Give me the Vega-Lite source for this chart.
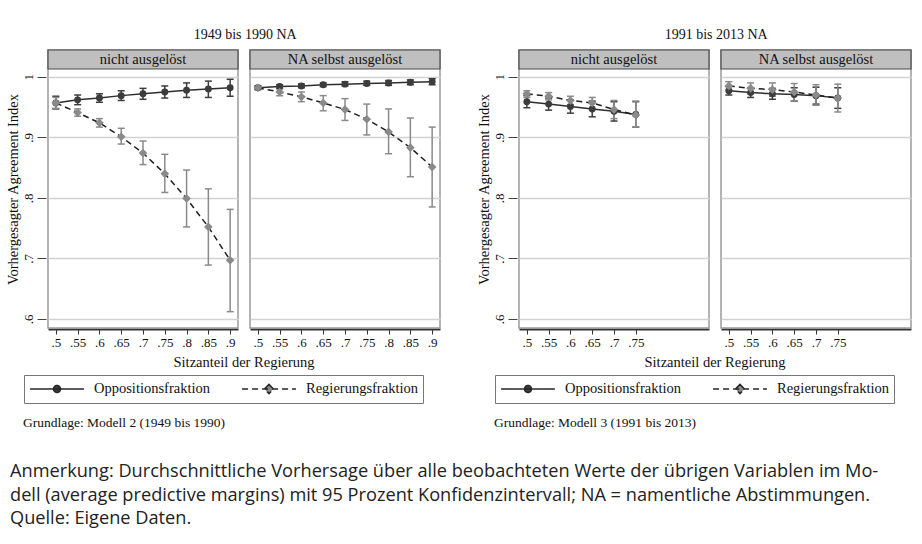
{
  "$schema": "https://vega.github.io/schema/vega-lite/v6.json",
  "background": "white",
  "padding": {"left": 5, "top": 27, "right": 5, "bottom": 5},
  "datasets": {
    "pts": [
      {"period": "1949 bis 1990", "panel": "nicht ausgelöst", "series": "Oppositionsfraktion", "x": 0.5, "y": 0.957, "lo": 0.947, "hi": 0.968},
      {"period": "1949 bis 1990", "panel": "nicht ausgelöst", "series": "Oppositionsfraktion", "x": 0.55, "y": 0.962, "lo": 0.954, "hi": 0.970},
      {"period": "1949 bis 1990", "panel": "nicht ausgelöst", "series": "Oppositionsfraktion", "x": 0.6, "y": 0.965, "lo": 0.958, "hi": 0.972},
      {"period": "1949 bis 1990", "panel": "nicht ausgelöst", "series": "Oppositionsfraktion", "x": 0.65, "y": 0.969, "lo": 0.961, "hi": 0.977},
      {"period": "1949 bis 1990", "panel": "nicht ausgelöst", "series": "Oppositionsfraktion", "x": 0.7, "y": 0.972, "lo": 0.963, "hi": 0.981},
      {"period": "1949 bis 1990", "panel": "nicht ausgelöst", "series": "Oppositionsfraktion", "x": 0.75, "y": 0.975, "lo": 0.965, "hi": 0.985},
      {"period": "1949 bis 1990", "panel": "nicht ausgelöst", "series": "Oppositionsfraktion", "x": 0.8, "y": 0.978, "lo": 0.966, "hi": 0.990},
      {"period": "1949 bis 1990", "panel": "nicht ausgelöst", "series": "Oppositionsfraktion", "x": 0.85, "y": 0.980, "lo": 0.966, "hi": 0.993},
      {"period": "1949 bis 1990", "panel": "nicht ausgelöst", "series": "Oppositionsfraktion", "x": 0.9, "y": 0.982, "lo": 0.968, "hi": 0.996},
      {"period": "1949 bis 1990", "panel": "nicht ausgelöst", "series": "Regierungsfraktion", "x": 0.5, "y": 0.957, "lo": 0.948, "hi": 0.966},
      {"period": "1949 bis 1990", "panel": "nicht ausgelöst", "series": "Regierungsfraktion", "x": 0.55, "y": 0.941, "lo": 0.935, "hi": 0.947},
      {"period": "1949 bis 1990", "panel": "nicht ausgelöst", "series": "Regierungsfraktion", "x": 0.6, "y": 0.924, "lo": 0.917, "hi": 0.931},
      {"period": "1949 bis 1990", "panel": "nicht ausgelöst", "series": "Regierungsfraktion", "x": 0.65, "y": 0.901, "lo": 0.889, "hi": 0.915},
      {"period": "1949 bis 1990", "panel": "nicht ausgelöst", "series": "Regierungsfraktion", "x": 0.7, "y": 0.874, "lo": 0.855, "hi": 0.894},
      {"period": "1949 bis 1990", "panel": "nicht ausgelöst", "series": "Regierungsfraktion", "x": 0.75, "y": 0.840, "lo": 0.809, "hi": 0.872},
      {"period": "1949 bis 1990", "panel": "nicht ausgelöst", "series": "Regierungsfraktion", "x": 0.8, "y": 0.799, "lo": 0.752, "hi": 0.846},
      {"period": "1949 bis 1990", "panel": "nicht ausgelöst", "series": "Regierungsfraktion", "x": 0.85, "y": 0.752, "lo": 0.689, "hi": 0.815},
      {"period": "1949 bis 1990", "panel": "nicht ausgelöst", "series": "Regierungsfraktion", "x": 0.9, "y": 0.697, "lo": 0.612, "hi": 0.781},
      {"period": "1949 bis 1990", "panel": "NA selbst ausgelöst", "series": "Oppositionsfraktion", "x": 0.5, "y": 0.982, "lo": 0.979, "hi": 0.985},
      {"period": "1949 bis 1990", "panel": "NA selbst ausgelöst", "series": "Oppositionsfraktion", "x": 0.55, "y": 0.984, "lo": 0.981, "hi": 0.987},
      {"period": "1949 bis 1990", "panel": "NA selbst ausgelöst", "series": "Oppositionsfraktion", "x": 0.6, "y": 0.985, "lo": 0.982, "hi": 0.988},
      {"period": "1949 bis 1990", "panel": "NA selbst ausgelöst", "series": "Oppositionsfraktion", "x": 0.65, "y": 0.987, "lo": 0.984, "hi": 0.990},
      {"period": "1949 bis 1990", "panel": "NA selbst ausgelöst", "series": "Oppositionsfraktion", "x": 0.7, "y": 0.988, "lo": 0.985, "hi": 0.992},
      {"period": "1949 bis 1990", "panel": "NA selbst ausgelöst", "series": "Oppositionsfraktion", "x": 0.75, "y": 0.989, "lo": 0.986, "hi": 0.993},
      {"period": "1949 bis 1990", "panel": "NA selbst ausgelöst", "series": "Oppositionsfraktion", "x": 0.8, "y": 0.990, "lo": 0.986, "hi": 0.994},
      {"period": "1949 bis 1990", "panel": "NA selbst ausgelöst", "series": "Oppositionsfraktion", "x": 0.85, "y": 0.991, "lo": 0.987, "hi": 0.995},
      {"period": "1949 bis 1990", "panel": "NA selbst ausgelöst", "series": "Oppositionsfraktion", "x": 0.9, "y": 0.992, "lo": 0.987, "hi": 0.997},
      {"period": "1949 bis 1990", "panel": "NA selbst ausgelöst", "series": "Regierungsfraktion", "x": 0.5, "y": 0.982, "lo": 0.979, "hi": 0.985},
      {"period": "1949 bis 1990", "panel": "NA selbst ausgelöst", "series": "Regierungsfraktion", "x": 0.55, "y": 0.975, "lo": 0.969, "hi": 0.980},
      {"period": "1949 bis 1990", "panel": "NA selbst ausgelöst", "series": "Regierungsfraktion", "x": 0.6, "y": 0.967, "lo": 0.959, "hi": 0.975},
      {"period": "1949 bis 1990", "panel": "NA selbst ausgelöst", "series": "Regierungsfraktion", "x": 0.65, "y": 0.957, "lo": 0.944, "hi": 0.969},
      {"period": "1949 bis 1990", "panel": "NA selbst ausgelöst", "series": "Regierungsfraktion", "x": 0.7, "y": 0.946, "lo": 0.928, "hi": 0.964},
      {"period": "1949 bis 1990", "panel": "NA selbst ausgelöst", "series": "Regierungsfraktion", "x": 0.75, "y": 0.930, "lo": 0.904, "hi": 0.955},
      {"period": "1949 bis 1990", "panel": "NA selbst ausgelöst", "series": "Regierungsfraktion", "x": 0.8, "y": 0.909, "lo": 0.873, "hi": 0.947},
      {"period": "1949 bis 1990", "panel": "NA selbst ausgelöst", "series": "Regierungsfraktion", "x": 0.85, "y": 0.883, "lo": 0.835, "hi": 0.932},
      {"period": "1949 bis 1990", "panel": "NA selbst ausgelöst", "series": "Regierungsfraktion", "x": 0.9, "y": 0.851, "lo": 0.785, "hi": 0.917},
      {"period": "1991 bis 2013", "panel": "nicht ausgelöst", "series": "Oppositionsfraktion", "x": 0.5, "y": 0.959, "lo": 0.949, "hi": 0.969},
      {"period": "1991 bis 2013", "panel": "nicht ausgelöst", "series": "Oppositionsfraktion", "x": 0.55, "y": 0.955, "lo": 0.945, "hi": 0.965},
      {"period": "1991 bis 2013", "panel": "nicht ausgelöst", "series": "Oppositionsfraktion", "x": 0.6, "y": 0.951, "lo": 0.940, "hi": 0.962},
      {"period": "1991 bis 2013", "panel": "nicht ausgelöst", "series": "Oppositionsfraktion", "x": 0.65, "y": 0.947, "lo": 0.934, "hi": 0.960},
      {"period": "1991 bis 2013", "panel": "nicht ausgelöst", "series": "Oppositionsfraktion", "x": 0.7, "y": 0.943, "lo": 0.927, "hi": 0.959},
      {"period": "1991 bis 2013", "panel": "nicht ausgelöst", "series": "Oppositionsfraktion", "x": 0.75, "y": 0.938, "lo": 0.917, "hi": 0.959},
      {"period": "1991 bis 2013", "panel": "nicht ausgelöst", "series": "Regierungsfraktion", "x": 0.5, "y": 0.972, "lo": 0.966, "hi": 0.977},
      {"period": "1991 bis 2013", "panel": "nicht ausgelöst", "series": "Regierungsfraktion", "x": 0.55, "y": 0.968, "lo": 0.962, "hi": 0.974},
      {"period": "1991 bis 2013", "panel": "nicht ausgelöst", "series": "Regierungsfraktion", "x": 0.6, "y": 0.961, "lo": 0.954, "hi": 0.968},
      {"period": "1991 bis 2013", "panel": "nicht ausgelöst", "series": "Regierungsfraktion", "x": 0.65, "y": 0.957, "lo": 0.947, "hi": 0.966},
      {"period": "1991 bis 2013", "panel": "nicht ausgelöst", "series": "Regierungsfraktion", "x": 0.7, "y": 0.946, "lo": 0.931, "hi": 0.961},
      {"period": "1991 bis 2013", "panel": "nicht ausgelöst", "series": "Regierungsfraktion", "x": 0.75, "y": 0.937, "lo": 0.917, "hi": 0.960},
      {"period": "1991 bis 2013", "panel": "NA selbst ausgelöst", "series": "Oppositionsfraktion", "x": 0.5, "y": 0.977, "lo": 0.970, "hi": 0.984},
      {"period": "1991 bis 2013", "panel": "NA selbst ausgelöst", "series": "Oppositionsfraktion", "x": 0.55, "y": 0.974, "lo": 0.966, "hi": 0.982},
      {"period": "1991 bis 2013", "panel": "NA selbst ausgelöst", "series": "Oppositionsfraktion", "x": 0.6, "y": 0.972, "lo": 0.963, "hi": 0.981},
      {"period": "1991 bis 2013", "panel": "NA selbst ausgelöst", "series": "Oppositionsfraktion", "x": 0.65, "y": 0.971, "lo": 0.960, "hi": 0.982},
      {"period": "1991 bis 2013", "panel": "NA selbst ausgelöst", "series": "Oppositionsfraktion", "x": 0.7, "y": 0.969, "lo": 0.955, "hi": 0.983},
      {"period": "1991 bis 2013", "panel": "NA selbst ausgelöst", "series": "Oppositionsfraktion", "x": 0.75, "y": 0.965, "lo": 0.948, "hi": 0.982},
      {"period": "1991 bis 2013", "panel": "NA selbst ausgelöst", "series": "Regierungsfraktion", "x": 0.5, "y": 0.985, "lo": 0.978, "hi": 0.992},
      {"period": "1991 bis 2013", "panel": "NA selbst ausgelöst", "series": "Regierungsfraktion", "x": 0.55, "y": 0.981, "lo": 0.972, "hi": 0.990},
      {"period": "1991 bis 2013", "panel": "NA selbst ausgelöst", "series": "Regierungsfraktion", "x": 0.6, "y": 0.979, "lo": 0.968, "hi": 0.990},
      {"period": "1991 bis 2013", "panel": "NA selbst ausgelöst", "series": "Regierungsfraktion", "x": 0.65, "y": 0.975, "lo": 0.960, "hi": 0.989},
      {"period": "1991 bis 2013", "panel": "NA selbst ausgelöst", "series": "Regierungsfraktion", "x": 0.7, "y": 0.970, "lo": 0.953, "hi": 0.987},
      {"period": "1991 bis 2013", "panel": "NA selbst ausgelöst", "series": "Regierungsfraktion", "x": 0.75, "y": 0.965, "lo": 0.942, "hi": 0.988}
    ]
  },
  "title": {
    "text": ["Anmerkung: Durchschnittliche Vorhersage über alle beobachteten Werte der übrigen Variablen im Mo-", "dell (average predictive margins) mit 95 Prozent Konfidenzintervall; NA = namentliche Abstimmungen.", "Quelle: Eigene Daten."],
    "orient": "bottom", "anchor": "start", "frame": "bounds",
    "font": "Open Sans",
    "fontSize": 18.2, "fontWeight": "normal", "lineHeight": 23.5, "offset": 34, "dx": 5, "color": "#222"
  },
  "spacing": 34,
  "resolve": {"scale": {"color": "independent"}},
  "hconcat": [
    {
      "title": {"text": "Grundlage: Modell 2 (1949 bis 1990)", "orient": "bottom", "anchor": "start", "fontSize": 13.5, "offset": 12, "dx": 18},
      "vconcat": [
        {
          "data": {"name": "pts"},
          "transform": [{"filter": "datum.period === '1949 bis 1990'"}],
          "title": {"text": "1949 bis 1990 NA", "fontSize": 14, "offset": 7, "anchor": "middle", "dx": 22},
          "facet": {"column": {"field": "panel", "type": "nominal", "sort": ["nicht ausgelöst", "NA selbst ausgelöst"], "header": {"labels": false, "title": "Sitzanteil der Regierung", "titleOrient": "bottom", "titleFont": "Liberation Serif", "titleFontSize": 14.5, "titleFontWeight": "normal", "titleColor": "#111", "titlePadding": -3}}},
          "spacing": 8,
          "spec": {
            "width": 190, "height": 278,
            "layer": [
              {"transform": [{"aggregate": [{"op": "count", "as": "n"}], "groupby": ["panel"]}], "mark": {"type": "rect", "fill": "#bfbfbf", "stroke": "#4a4a4a", "strokeWidth": 1.2}, "encoding": {"y": {"datum": 1.013, "type": "quantitative", "scale": {"domain": [0.585, 1.0444], "nice": false, "zero": false}, "axis": {"values": [0.6, 0.7, 0.8, 0.9, 1], "labelExpr": "datum.value < 1 ? substring(format(datum.value, '.1f'), 1) : '1'", "labelAngle": -90, "labelAlign": "center", "labelBaseline": "bottom", "labelPadding": 2, "tickSize": 9, "domain": false, "grid": true, "title": "Vorhergesagter Agreement Index", "titlePadding": 2}}, "y2": {"datum": 1.0444}}},
              {"transform": [{"aggregate": [{"op": "count", "as": "n"}], "groupby": ["panel"]}], "mark": {"type": "text", "fontSize": 14.5, "color": "#111", "baseline": "middle"}, "encoding": {"y": {"datum": 1.0287, "type": "quantitative"}, "text": {"field": "panel"}}},
              {
                "encoding": {"x": {"field": "x", "type": "quantitative", "scale": {"domain": [0.482, 0.918], "nice": false, "zero": false}, "axis": {"values": [0.5, 0.55, 0.6, 0.65, 0.7, 0.75, 0.8, 0.85, 0.9], "labelExpr": "substring(format(datum.value, '.2~f'), 1)", "grid": false, "domainColor": "#333", "domainWidth": 2, "tickColor": "#333", "tickSize": 5, "labelPadding": 2, "labelFlush": false, "labelOverlap": false, "title": null}}},
                "layer": [
                  {"transform": [{"filter": "datum.series === 'Oppositionsfraktion'"}], "mark": {"type": "rule", "strokeWidth": 1.5, "color": "#3c3c3c"}, "encoding": {"y": {"field": "lo", "type": "quantitative"}, "y2": {"field": "hi"}}},
                  {"transform": [{"filter": "datum.series === 'Oppositionsfraktion'"}], "mark": {"type": "tick", "orient": "horizontal", "size": 7, "thickness": 1.5, "opacity": 1, "color": "#3c3c3c"}, "encoding": {"y": {"field": "lo", "type": "quantitative"}}},
                  {"transform": [{"filter": "datum.series === 'Oppositionsfraktion'"}], "mark": {"type": "tick", "orient": "horizontal", "size": 7, "thickness": 1.5, "opacity": 1, "color": "#3c3c3c"}, "encoding": {"y": {"field": "hi", "type": "quantitative"}}},
                  {"transform": [{"filter": "datum.series === 'Regierungsfraktion'"}], "mark": {"type": "rule", "strokeWidth": 1.5, "color": "#8a8a8a"}, "encoding": {"y": {"field": "lo", "type": "quantitative"}, "y2": {"field": "hi"}}},
                  {"transform": [{"filter": "datum.series === 'Regierungsfraktion'"}], "mark": {"type": "tick", "orient": "horizontal", "size": 7, "thickness": 1.5, "opacity": 1, "color": "#8a8a8a"}, "encoding": {"y": {"field": "lo", "type": "quantitative"}}},
                  {"transform": [{"filter": "datum.series === 'Regierungsfraktion'"}], "mark": {"type": "tick", "orient": "horizontal", "size": 7, "thickness": 1.5, "opacity": 1, "color": "#8a8a8a"}, "encoding": {"y": {"field": "hi", "type": "quantitative"}}},
                  {"transform": [{"filter": "datum.series === 'Oppositionsfraktion'"}], "mark": {"type": "line", "strokeWidth": 1.5, "color": "#2e2e2e"}, "encoding": {"y": {"field": "y", "type": "quantitative"}}},
                  {"transform": [{"filter": "datum.series === 'Regierungsfraktion'"}], "mark": {"type": "line", "strokeWidth": 1.5, "color": "#1e1e1e", "strokeDash": [6, 4]}, "encoding": {"y": {"field": "y", "type": "quantitative"}}},
                  {"transform": [{"filter": "datum.series === 'Oppositionsfraktion'"}], "mark": {"type": "point", "filled": true, "opacity": 1, "shape": "circle", "size": 48}, "encoding": {"y": {"field": "y", "type": "quantitative"}, "color": {"field": "series", "type": "nominal", "scale": {"domain": ["Oppositionsfraktion", "Regierungsfraktion"], "range": ["#3c3c3c", "#8a8a8a"]}, "legend": {"title": null, "orient": "bottom", "direction": "horizontal", "symbolSize": 2900, "clipHeight": 18, "symbolType": {"expr": "datum.value === 'Oppositionsfraktion' ? 'M-1,0H1M-0.13,0A0.13,0.13,0,1,1,0.13,0A0.13,0.13,0,1,1,-0.13,0Z' : 'M-1,0H1M0,-0.17L0.17,0L0,0.17L-0.17,0Z'"}, "symbolDash": {"expr": "datum.value === 'Oppositionsfraktion' ? [1, 0] : [6, 4]"}, "symbolStrokeColor": "#262626", "symbolStrokeWidth": 1.5, "symbolOpacity": 1, "labelFontSize": 14.5, "labelOffset": 9, "columnPadding": 31, "padding": 5, "strokeColor": "#777", "offset": 5, "labelColor": "#111"}}}},
                  {"transform": [{"filter": "datum.series === 'Regierungsfraktion'"}], "mark": {"type": "point", "filled": true, "opacity": 1, "shape": "diamond", "size": 75}, "encoding": {"y": {"field": "y", "type": "quantitative"}, "color": {"field": "series", "type": "nominal", "scale": {"domain": ["Oppositionsfraktion", "Regierungsfraktion"], "range": ["#3c3c3c", "#8a8a8a"]}, "legend": {"title": null, "orient": "bottom", "direction": "horizontal", "symbolSize": 2900, "clipHeight": 18, "symbolType": {"expr": "datum.value === 'Oppositionsfraktion' ? 'M-1,0H1M-0.13,0A0.13,0.13,0,1,1,0.13,0A0.13,0.13,0,1,1,-0.13,0Z' : 'M-1,0H1M0,-0.17L0.17,0L0,0.17L-0.17,0Z'"}, "symbolDash": {"expr": "datum.value === 'Oppositionsfraktion' ? [1, 0] : [6, 4]"}, "symbolStrokeColor": "#262626", "symbolStrokeWidth": 1.5, "symbolOpacity": 1, "labelFontSize": 14.5, "labelOffset": 9, "columnPadding": 31, "padding": 5, "strokeColor": "#777", "offset": 5, "labelColor": "#111"}}}}
                ]
              }
            ]
          }
        }
      ]
    },
    {
      "title": {"text": "Grundlage: Modell 3 (1991 bis 2013)", "orient": "bottom", "anchor": "start", "fontSize": 13.5, "offset": 12, "dx": 18},
      "vconcat": [
        {
          "data": {"name": "pts"},
          "transform": [{"filter": "datum.period === '1991 bis 2013'"}],
          "title": {"text": "1991 bis 2013 NA", "fontSize": 14, "offset": 7, "anchor": "middle", "dx": 22},
          "facet": {"column": {"field": "panel", "type": "nominal", "sort": ["nicht ausgelöst", "NA selbst ausgelöst"], "header": {"labels": false, "title": "Sitzanteil der Regierung", "titleOrient": "bottom", "titleFont": "Liberation Serif", "titleFontSize": 14.5, "titleFontWeight": "normal", "titleColor": "#111", "titlePadding": -3}}},
          "spacing": 8,
          "spec": {
            "width": 190, "height": 278,
            "layer": [
              {"transform": [{"aggregate": [{"op": "count", "as": "n"}], "groupby": ["panel"]}], "mark": {"type": "rect", "fill": "#bfbfbf", "stroke": "#4a4a4a", "strokeWidth": 1.2}, "encoding": {"y": {"datum": 1.013, "type": "quantitative", "scale": {"domain": [0.585, 1.0444], "nice": false, "zero": false}, "axis": {"values": [0.6, 0.7, 0.8, 0.9, 1], "labelExpr": "datum.value < 1 ? substring(format(datum.value, '.1f'), 1) : '1'", "labelAngle": -90, "labelAlign": "center", "labelBaseline": "bottom", "labelPadding": 2, "tickSize": 9, "domain": false, "grid": true, "title": "Vorhergesagter Agreement Index", "titlePadding": 2}}, "y2": {"datum": 1.0444}}},
              {"transform": [{"aggregate": [{"op": "count", "as": "n"}], "groupby": ["panel"]}], "mark": {"type": "text", "fontSize": 14.5, "color": "#111", "baseline": "middle"}, "encoding": {"y": {"datum": 1.0287, "type": "quantitative"}, "text": {"field": "panel"}}},
              {
                "encoding": {"x": {"field": "x", "type": "quantitative", "scale": {"domain": [0.482, 0.918], "nice": false, "zero": false}, "axis": {"values": [0.5, 0.55, 0.6, 0.65, 0.7, 0.75], "labelExpr": "substring(format(datum.value, '.2~f'), 1)", "grid": false, "domainColor": "#333", "domainWidth": 2, "tickColor": "#333", "tickSize": 5, "labelPadding": 2, "labelFlush": false, "labelOverlap": false, "title": null}}},
                "layer": [
                  {"transform": [{"filter": "datum.series === 'Oppositionsfraktion'"}], "mark": {"type": "rule", "strokeWidth": 1.5, "color": "#3c3c3c"}, "encoding": {"y": {"field": "lo", "type": "quantitative"}, "y2": {"field": "hi"}}},
                  {"transform": [{"filter": "datum.series === 'Oppositionsfraktion'"}], "mark": {"type": "tick", "orient": "horizontal", "size": 7, "thickness": 1.5, "opacity": 1, "color": "#3c3c3c"}, "encoding": {"y": {"field": "lo", "type": "quantitative"}}},
                  {"transform": [{"filter": "datum.series === 'Oppositionsfraktion'"}], "mark": {"type": "tick", "orient": "horizontal", "size": 7, "thickness": 1.5, "opacity": 1, "color": "#3c3c3c"}, "encoding": {"y": {"field": "hi", "type": "quantitative"}}},
                  {"transform": [{"filter": "datum.series === 'Regierungsfraktion'"}], "mark": {"type": "rule", "strokeWidth": 1.5, "color": "#8a8a8a"}, "encoding": {"y": {"field": "lo", "type": "quantitative"}, "y2": {"field": "hi"}}},
                  {"transform": [{"filter": "datum.series === 'Regierungsfraktion'"}], "mark": {"type": "tick", "orient": "horizontal", "size": 7, "thickness": 1.5, "opacity": 1, "color": "#8a8a8a"}, "encoding": {"y": {"field": "lo", "type": "quantitative"}}},
                  {"transform": [{"filter": "datum.series === 'Regierungsfraktion'"}], "mark": {"type": "tick", "orient": "horizontal", "size": 7, "thickness": 1.5, "opacity": 1, "color": "#8a8a8a"}, "encoding": {"y": {"field": "hi", "type": "quantitative"}}},
                  {"transform": [{"filter": "datum.series === 'Oppositionsfraktion'"}], "mark": {"type": "line", "strokeWidth": 1.5, "color": "#2e2e2e"}, "encoding": {"y": {"field": "y", "type": "quantitative"}}},
                  {"transform": [{"filter": "datum.series === 'Regierungsfraktion'"}], "mark": {"type": "line", "strokeWidth": 1.5, "color": "#1e1e1e", "strokeDash": [6, 4]}, "encoding": {"y": {"field": "y", "type": "quantitative"}}},
                  {"transform": [{"filter": "datum.series === 'Oppositionsfraktion'"}], "mark": {"type": "point", "filled": true, "opacity": 1, "shape": "circle", "size": 48}, "encoding": {"y": {"field": "y", "type": "quantitative"}, "color": {"field": "series", "type": "nominal", "scale": {"domain": ["Oppositionsfraktion", "Regierungsfraktion"], "range": ["#3c3c3c", "#8a8a8a"]}, "legend": {"title": null, "orient": "bottom", "direction": "horizontal", "symbolSize": 2900, "clipHeight": 18, "symbolType": {"expr": "datum.value === 'Oppositionsfraktion' ? 'M-1,0H1M-0.13,0A0.13,0.13,0,1,1,0.13,0A0.13,0.13,0,1,1,-0.13,0Z' : 'M-1,0H1M0,-0.17L0.17,0L0,0.17L-0.17,0Z'"}, "symbolDash": {"expr": "datum.value === 'Oppositionsfraktion' ? [1, 0] : [6, 4]"}, "symbolStrokeColor": "#262626", "symbolStrokeWidth": 1.5, "symbolOpacity": 1, "labelFontSize": 14.5, "labelOffset": 9, "columnPadding": 31, "padding": 5, "strokeColor": "#777", "offset": 5, "labelColor": "#111"}}}},
                  {"transform": [{"filter": "datum.series === 'Regierungsfraktion'"}], "mark": {"type": "point", "filled": true, "opacity": 1, "shape": "diamond", "size": 75}, "encoding": {"y": {"field": "y", "type": "quantitative"}, "color": {"field": "series", "type": "nominal", "scale": {"domain": ["Oppositionsfraktion", "Regierungsfraktion"], "range": ["#3c3c3c", "#8a8a8a"]}, "legend": {"title": null, "orient": "bottom", "direction": "horizontal", "symbolSize": 2900, "clipHeight": 18, "symbolType": {"expr": "datum.value === 'Oppositionsfraktion' ? 'M-1,0H1M-0.13,0A0.13,0.13,0,1,1,0.13,0A0.13,0.13,0,1,1,-0.13,0Z' : 'M-1,0H1M0,-0.17L0.17,0L0,0.17L-0.17,0Z'"}, "symbolDash": {"expr": "datum.value === 'Oppositionsfraktion' ? [1, 0] : [6, 4]"}, "symbolStrokeColor": "#262626", "symbolStrokeWidth": 1.5, "symbolOpacity": 1, "labelFontSize": 14.5, "labelOffset": 9, "columnPadding": 31, "padding": 5, "strokeColor": "#777", "offset": 5, "labelColor": "#111"}}}}
                ]
              }
            ]
          }
        }
      ]
    }
  ],
  "config": {
    "font": "Liberation Serif",
    "view": {"stroke": "#9a9a9a", "strokeWidth": 1.5},
    "axis": {"labelFont": "Liberation Serif", "titleFont": "Liberation Serif", "labelColor": "#111", "titleColor": "#111", "titleFontWeight": "normal", "labelFontSize": 13, "titleFontSize": 14.5, "tickColor": "#444", "gridColor": "#d2d2d2", "gridWidth": 1.5},
    "title": {"font": "Liberation Serif", "fontWeight": "normal", "color": "#111"},
    "legend": {"labelFont": "Liberation Serif", "layout": {"bottom": {"anchor": "middle"}}},
    "text": {"font": "Liberation Serif"}
  }
}
